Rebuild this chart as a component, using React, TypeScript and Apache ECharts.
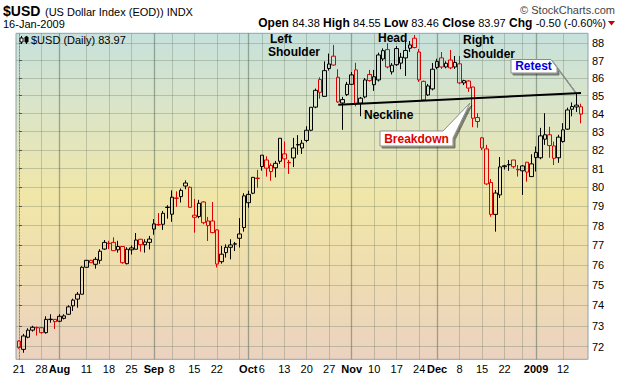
import React, { useEffect, useRef } from 'react';
import * as echarts from 'echarts';

const dates: string[] = [
  '2008-07-21', '2008-07-22', '2008-07-23', '2008-07-24', '2008-07-25',
  '2008-07-28', '2008-07-29', '2008-07-30', '2008-07-31', '2008-08-01',
  '2008-08-04', '2008-08-05', '2008-08-06', '2008-08-07', '2008-08-08',
  '2008-08-11', '2008-08-12', '2008-08-13', '2008-08-14', '2008-08-15',
  '2008-08-18', '2008-08-19', '2008-08-20', '2008-08-21', '2008-08-22',
  '2008-08-25', '2008-08-26', '2008-08-27', '2008-08-28', '2008-08-29',
  '2008-09-02', '2008-09-03', '2008-09-04', '2008-09-05',
  '2008-09-08', '2008-09-09', '2008-09-10', '2008-09-11', '2008-09-12',
  '2008-09-15', '2008-09-16', '2008-09-17', '2008-09-18', '2008-09-19',
  '2008-09-22', '2008-09-23', '2008-09-24', '2008-09-25', '2008-09-26',
  '2008-09-29', '2008-09-30', '2008-10-01', '2008-10-02', '2008-10-03',
  '2008-10-06', '2008-10-07', '2008-10-08', '2008-10-09', '2008-10-10',
  '2008-10-13', '2008-10-14', '2008-10-15', '2008-10-16', '2008-10-17',
  '2008-10-20', '2008-10-21', '2008-10-22', '2008-10-23', '2008-10-24',
  '2008-10-27', '2008-10-28', '2008-10-29', '2008-10-30', '2008-10-31',
  '2008-11-03', '2008-11-04', '2008-11-05', '2008-11-06', '2008-11-07',
  '2008-11-10', '2008-11-11', '2008-11-12', '2008-11-13', '2008-11-14',
  '2008-11-17', '2008-11-18', '2008-11-19', '2008-11-20', '2008-11-21',
  '2008-11-24', '2008-11-25', '2008-11-26', '2008-11-28',
  '2008-12-01', '2008-12-02', '2008-12-03', '2008-12-04', '2008-12-05',
  '2008-12-08', '2008-12-09', '2008-12-10', '2008-12-11', '2008-12-12',
  '2008-12-15', '2008-12-16', '2008-12-17', '2008-12-18', '2008-12-19',
  '2008-12-22', '2008-12-23', '2008-12-24', '2008-12-26',
  '2008-12-29', '2008-12-30', '2008-12-31', '2009-01-02',
  '2009-01-05', '2009-01-06', '2009-01-07', '2009-01-08', '2009-01-09',
  '2009-01-12', '2009-01-13', '2009-01-14', '2009-01-15', '2009-01-16',
];

const opens: number[] = [
  72.27, 71.87, 72.45, 72.79, 72.92, 72.91, 72.67, 73.30, 73.31, 73.22,
  73.36, 73.56, 73.97, 74.30, 74.54, 75.88, 76.23, 76.03, 76.23, 76.80,
  77.10, 77.14, 76.76, 76.93, 76.06, 76.76, 76.79, 77.30, 77.02, 77.14,
  77.82, 78.06, 78.07, 78.94, 78.59, 79.44, 79.51, 80.07, 80.00, 78.43,
  78.47, 79.23, 78.24, 78.24, 77.78, 76.16, 76.62, 76.89, 77.05, 77.35,
  77.90, 79.19, 79.69, 80.49, 81.11, 81.46, 81.17, 81.04, 81.39, 81.79,
  81.33, 81.57, 82.27, 82.11, 82.52, 83.08, 84.36, 85.91, 84.96, 86.54,
  87.25, 86.04, 84.59, 85.06, 85.64, 86.46, 84.58, 84.93, 86.20, 85.62,
  85.89, 87.09, 87.63, 86.35, 87.69, 86.85, 87.15, 87.71, 88.29, 87.49,
  85.81, 85.04, 85.38, 86.60, 87.15, 86.63, 87.03, 86.63, 86.81, 85.72,
  85.83, 85.49, 83.78, 82.66, 82.06, 80.26, 78.58, 79.60, 81.10, 81.20,
  81.46, 80.95, 80.88, 81.34, 80.57, 81.59, 81.58, 82.59, 82.83, 82.22,
  81.58, 82.46, 83.14, 84.24, 84.37, 84.38,
];
const highs: number[] = [
  72.30, 72.61, 72.88, 73.00, 72.96, 72.93, 73.46, 73.56, 73.33, 73.56,
  73.56, 74.00, 74.32, 74.65, 75.93, 76.25, 76.25, 76.39, 76.79, 77.26,
  77.22, 77.40, 77.22, 76.95, 76.89, 76.98, 77.62, 77.32, 77.30, 77.47,
  78.34, 78.65, 78.76, 79.06, 79.84, 79.79, 79.94, 80.37, 80.05, 79.39,
  79.34, 79.27, 78.45, 79.23, 77.80, 76.96, 77.04, 77.30, 77.16, 78.39,
  79.69, 79.82, 80.53, 80.93, 81.72, 81.66, 81.28, 81.41, 82.64, 82.46,
  81.46, 82.66, 82.81, 82.55, 83.30, 84.35, 85.40, 86.04, 86.95, 87.40,
  87.90, 86.50, 84.93, 85.78, 86.34, 86.87, 84.93, 86.00, 86.46, 86.46,
  87.45, 87.70, 88.00, 86.85, 87.83, 87.44, 88.08, 88.13, 88.48, 87.67,
  85.85, 85.66, 86.86, 87.10, 87.49, 86.95, 87.61, 87.26, 87.26, 85.90,
  85.87, 85.50, 84.02, 82.71, 82.28, 80.44, 79.86, 81.62, 81.20, 81.46,
  81.46, 81.19, 81.19, 81.35, 81.77, 82.19, 83.21, 84.02, 83.27, 82.46,
  82.83, 83.47, 84.33, 84.62, 85.13, 84.55,
];
const lows: number[] = [
  71.90, 71.71, 72.40, 72.72, 72.53, 72.62, 72.62, 73.15, 72.85, 73.18,
  73.31, 73.53, 73.72, 73.88, 74.54, 75.86, 76.10, 75.81, 76.06, 76.76,
  76.80, 76.72, 76.62, 76.06, 76.03, 76.52, 76.78, 76.67, 76.62, 76.78,
  77.53, 77.99, 77.78, 78.36, 78.20, 78.98, 79.20, 79.90, 78.95, 77.64,
  78.38, 78.07, 77.21, 77.61, 75.87, 76.06, 76.37, 76.28, 76.70, 76.88,
  77.69, 78.93, 79.64, 79.98, 80.89, 80.57, 80.35, 80.53, 81.25, 81.04,
  80.71, 81.08, 81.75, 81.79, 82.42, 83.03, 84.30, 84.83, 84.96, 86.42,
  86.70, 84.60, 83.10, 84.98, 85.60, 84.40, 83.85, 84.85, 85.80, 85.27,
  85.80, 86.97, 86.55, 86.20, 86.69, 86.50, 86.11, 87.50, 87.70, 85.78,
  84.71, 84.98, 85.30, 86.50, 86.52, 86.55, 86.50, 86.52, 85.65, 85.60,
  85.21, 83.25, 83.22, 82.00, 80.13, 78.46, 77.69, 79.44, 80.95, 80.88,
  81.00, 80.57, 79.60, 80.30, 80.55, 80.84, 81.50, 82.28, 81.58, 81.19,
  81.31, 82.40, 83.10, 83.85, 84.09, 83.46,
];
const closes: number[] = [
  71.95, 72.51, 72.79, 72.93, 72.90, 72.67, 73.31, 73.32, 73.20, 73.46,
  73.48, 73.92, 74.25, 74.54, 75.88, 76.23, 76.11, 76.28, 76.69, 77.14,
  77.08, 76.72, 76.93, 76.11, 76.79, 76.86, 77.26, 77.02, 77.16, 77.31,
  78.09, 78.04, 78.64, 78.96, 79.48, 79.42, 79.84, 80.23, 78.95, 78.54,
  79.16, 78.15, 78.00, 77.64, 76.04, 76.54, 76.89, 77.01, 77.07, 77.57,
  79.55, 79.63, 80.53, 80.47, 81.72, 81.02, 80.84, 81.28, 82.64, 81.52,
  81.31, 82.11, 82.30, 82.37, 83.08, 84.35, 85.30, 85.19, 86.42, 86.80,
  86.74, 84.65, 84.78, 85.64, 86.18, 84.58, 84.86, 85.89, 85.85, 86.07,
  87.32, 87.57, 86.63, 86.73, 86.76, 87.19, 87.58, 87.90, 87.75, 85.89,
  84.76, 85.55, 86.50, 86.95, 86.63, 86.84, 86.58, 86.89, 85.72, 85.85,
  85.43, 83.74, 83.56, 82.11, 80.18, 78.58, 79.70, 81.09, 81.15, 81.22,
  81.10, 80.93, 81.14, 80.81, 81.25, 81.87, 82.77, 82.83, 82.24, 81.55,
  82.70, 83.10, 84.20, 84.39, 84.47, 83.97,
];
const priorClose = 72.3;

const xLabelDates: string[] = [
  '2008-07-21', '2008-07-28', '2008-08-01', '2008-08-11', '2008-08-18', '2008-08-25',
  '2008-09-02', '2008-09-08', '2008-09-15', '2008-09-22', '2008-10-01', '2008-10-06',
  '2008-10-13', '2008-10-20', '2008-10-27', '2008-11-03', '2008-11-10', '2008-11-17',
  '2008-11-24', '2008-12-01', '2008-12-08', '2008-12-15', '2008-12-22', '2009-01-02',
  '2009-01-12',
];
const xLabelTexts: string[] = [
  '21', '28', 'Aug', '11', '18', '25', 'Sep', '8', '15', '22', 'Oct', '6',
  '13', '20', '27', 'Nov', '10', '17', '24', 'Dec', '8', '15', '22', '2009', '12',
];
const monthLabels: string[] = ['Aug', 'Sep', 'Oct', 'Nov', 'Dec', '2009'];

const weekLineDates: string[] = [
  '2008-07-21', '2008-07-28', '2008-08-11', '2008-08-18', '2008-08-25', '2008-09-08',
  '2008-09-15', '2008-09-22', '2008-09-29', '2008-10-06', '2008-10-13', '2008-10-20',
  '2008-10-27', '2008-11-10', '2008-11-17', '2008-11-24', '2008-12-08', '2008-12-15',
  '2008-12-22', '2008-12-29', '2009-01-12',
];
const monthLineDates: string[] = [
  '2008-08-01', '2008-09-02', '2008-10-01', '2008-11-03', '2008-12-01', '2009-01-02',
];

const yTicks: number[] = [72, 73, 74, 75, 76, 77, 78, 79, 80, 81, 82, 83, 84, 85, 86, 87, 88];
const yMin = 71.4;
const yMax = 88.58;

const necklineStart: [string, number] = ['2008-10-29', 84.49];
const necklineEnd: [string, number] = ['2009-01-16', 85.15];

const FONT = '"Liberation Sans", Arial, Helvetica, sans-serif';
const RED = '#dd0000';

export default function App() {
  const ref = useRef<HTMLDivElement>(null);

  useEffect(() => {
    if (!ref.current) return;
    const chart = echarts.init(ref.current, undefined, { renderer: 'svg' });

    const items = dates.map((d, i) => {
      const o = opens[i];
      const c = closes[i];
      const prev = i === 0 ? priorClose : closes[i - 1];
      const col = c < prev ? RED : '#000000';
      return {
        value: [o, c, lows[i], highs[i]],
        itemStyle: {
          color: 'rgba(0,0,0,0)',
          color0: col,
          borderColor: col,
          borderColor0: col,
          borderWidth: 1,
        },
      };
    });

    const weekIdx = weekLineDates.map((d) => dates.indexOf(d));
    const monthIdx = monthLineDates.map((d) => dates.indexOf(d));
    const xSpanMin = -0.667;
    const xSpanMax = 126.56;

    const bg = new echarts.graphic.LinearGradient(0, 0, 0, 1, [
      { offset: 0, color: '#c6e1dc' },
      { offset: 0.25, color: '#dde5c6' },
      { offset: 0.5, color: '#f0e6a8' },
      { offset: 0.72, color: '#efdeb0' },
      { offset: 1, color: '#ebd2c0' },
    ]);

    const txt = (text: string, x: number, y: number, extra: any = {}) => ({
      type: 'text',
      x,
      y,
      z: 100,
      silent: true,
      style: {
        text,
        fontFamily: FONT,
        fontSize: 12,
        fontWeight: 'bold',
        fill: '#000',
        align: 'left',
        verticalAlign: 'middle',
        ...extra,
      },
    });

    const balloonStyle = {
      fill: '#ffffff',
      stroke: '#8c8c8c',
      lineWidth: 1,
      shadowColor: 'rgba(0,0,0,0.45)',
      shadowBlur: 1,
      shadowOffsetX: 2,
      shadowOffsetY: 2,
    };

    const option: any = {
      animation: false,
      backgroundColor: '#ffffff',
      grid: [
        {
          left: 16, right: 32, top: 33.3, bottom: 16.7,
          show: true, backgroundColor: bg, borderColor: '#8ea4ab', borderWidth: 1,
        },
        { left: 16.75, right: 36.75, top: 33.3, bottom: 16.7, show: false },
      ],
      xAxis: [
        {
          gridIndex: 0, type: 'value', min: xSpanMin, max: xSpanMax, position: 'bottom',
          axisLine: { show: false },
          axisTick: { show: false, customValues: weekIdx },
          axisLabel: { show: false },
          splitLine: { show: true, lineStyle: { color: 'rgba(95,110,90,0.3)', width: 1 } },
        },
        {
          gridIndex: 0, type: 'value', min: xSpanMin, max: xSpanMax, position: 'top',
          axisLine: { show: false },
          axisTick: { show: false, customValues: monthIdx },
          axisLabel: { show: false },
          splitLine: { show: true, lineStyle: { color: 'rgba(80,100,80,0.5)', width: 1.3 } },
        },
        {
          gridIndex: 1, type: 'category', data: dates, boundaryGap: true, position: 'bottom',
          axisLine: { show: false },
          axisTick: { show: false },
          splitLine: { show: false },
          axisLabel: {
            interval: (idx: number, value: string) => xLabelDates.indexOf(value) >= 0,
            formatter: (value: string) => {
              const k = xLabelDates.indexOf(value);
              if (k < 0) return '';
              const t = xLabelTexts[k];
              return monthLabels.indexOf(t) >= 0 ? `{m|${t}}` : `{d|${t}}`;
            },
            margin: 4,
            rich: {
              m: { fontFamily: FONT, fontSize: 11, fontWeight: 'bold', color: '#000' },
              d: { fontFamily: FONT, fontSize: 11, color: '#000' },
            },
          },
        },
      ],
      yAxis: [
        {
          gridIndex: 0, type: 'log', logBase: 10, min: yMin, max: yMax, position: 'right',
          axisLine: { show: true, lineStyle: { color: '#6f8f9a', width: 1, type: [1, 2] } },
          axisTick: { show: true, customValues: yTicks, length: 3, lineStyle: { color: '#555' } },
          axisLabel: {
            customValues: yTicks,
            formatter: (v: number) => String(Math.round(v)),
            fontFamily: FONT, fontSize: 11, color: '#000', margin: 4,
          },
          splitLine: { show: true, lineStyle: { color: 'rgba(95,110,90,0.3)', width: 1 } },
          minorTick: { show: false },
        },
        {
          gridIndex: 1, type: 'log', logBase: 10, min: yMin, max: yMax, show: false,
          splitLine: { show: false },
        },
      ],
      series: [
        {
          type: 'candlestick',
          xAxisIndex: 2,
          yAxisIndex: 1,
          barWidth: 4,
          data: items,
          markLine: {
            silent: true,
            animation: false,
            symbol: ['none', 'none'],
            label: { show: false },
            lineStyle: { color: '#000', width: 2, type: 'solid' },
            data: [[{ coord: necklineStart }, { coord: necklineEnd }]],
          },
        },
      ],
      graphic: [
        // header
        txt('$USD', 3, 11, { fontSize: 14 }),
        txt('(US Dollar Index (EOD)) INDX', 45, 12, { fontSize: 11, fontWeight: 'normal' }),
        txt('\u00A9 StockCharts.com', 615, 10, { fontSize: 11, fontWeight: 'normal', fill: '#444', align: 'right' }),
        txt('16-Jan-2009', 3, 23.5, { fontSize: 11, fontWeight: 'normal' }),
        {
          type: 'text', x: 606, y: 23, z: 100, silent: true,
          style: {
            text: '{b|Open} {v|84.38} {b|High} {v|84.55} {b|Low} {v|83.46} {b|Close} {v|83.97} {b|Chg} {v|-0.50 (-0.60%)}',
            align: 'right', verticalAlign: 'middle',
            rich: {
              b: { fontFamily: FONT, fontSize: 12, fontWeight: 'bold', fill: '#000' },
              v: { fontFamily: FONT, fontSize: 11, fill: '#000' },
            },
          },
        },
        { type: 'polygon', z: 100, silent: true, shape: { points: [[608, 21], [615, 21], [611.5, 25.5]] }, style: { fill: '#cc0000' } },
        // legend in plot
        { type: 'line', z: 100, silent: true, shape: { x1: 21.5, y1: 36, x2: 21.5, y2: 44 }, style: { stroke: '#000', lineWidth: 1 } },
        { type: 'rect', z: 101, silent: true, shape: { x: 20, y: 38, width: 3, height: 4 }, style: { fill: '#fff', stroke: '#000', lineWidth: 1 } },
        { type: 'line', z: 100, silent: true, shape: { x1: 26.5, y1: 36, x2: 26.5, y2: 44 }, style: { stroke: '#000', lineWidth: 1 } },
        { type: 'rect', z: 101, silent: true, shape: { x: 25, y: 37, width: 3, height: 5 }, style: { fill: '#000', stroke: '#000', lineWidth: 1 } },
        txt('$USD (Daily) 83.97', 31, 40, { fontSize: 11, fontWeight: 'normal' }),
        // annotations
        txt('Left', 270, 38.5),
        txt('Shoulder', 268, 52),
        txt('Head', 378, 38),
        txt('Right', 463, 40),
        txt('Shoulder', 463, 54),
        txt('Neckline', 364, 115),
        {
          type: 'polygon', z: 99, silent: true,
          shape: { points: [[380, 131], [443, 131], [470, 103], [453, 138], [453, 146], [380, 146]] },
          style: balloonStyle,
        },
        txt('Breakdown', 416.5, 138.5, { fill: RED, align: 'center' }),
        {
          type: 'polygon', z: 99, silent: true,
          shape: { points: [[511, 59.5], [551, 59.5], [575, 92], [557, 68], [557, 73], [511, 73]] },
          style: balloonStyle,
        },
        txt('Retest', 533.5, 66, { fill: '#0000dd', align: 'center' }),
      ],
    };

    chart.setOption(option);
    return () => chart.dispose();
  }, []);

  return (
    <div
      ref={ref}
      style={{ position: 'fixed', left: 0, top: 0, width: 620, height: 376, background: '#fff' }}
    />
  );
}
